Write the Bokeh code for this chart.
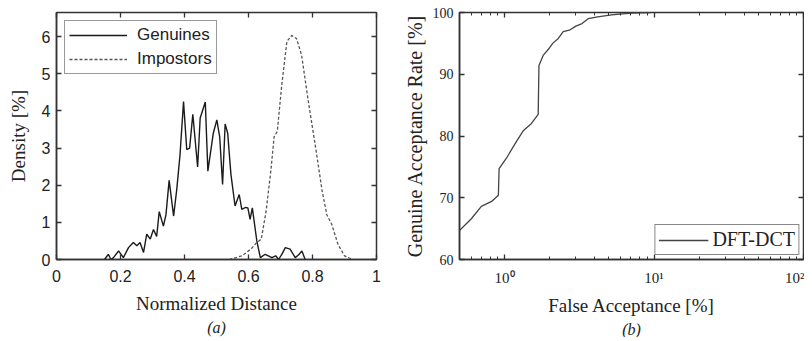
from bokeh.plotting import figure
from bokeh.models import (Range1d, FixedTicker, LinearAxis, Title, NumeralTickFormatter)
from bokeh.layouts import row
from bokeh.embed import file_html
from bokeh.resources import INLINE

# ---------------- data (a) ----------------
gen_x = [0.150, 0.162, 0.170, 0.178, 0.194, 0.209, 0.225, 0.240, 0.251, 0.261, 0.272, 0.282,
         0.293, 0.303, 0.313, 0.321, 0.334, 0.342, 0.352, 0.366, 0.376, 0.386, 0.397, 0.407,
         0.416, 0.426, 0.441, 0.449, 0.465, 0.473, 0.490, 0.501, 0.510, 0.519, 0.527, 0.535,
         0.545, 0.558, 0.571, 0.579, 0.590, 0.598, 0.605, 0.612, 0.626, 0.637, 0.652, 0.662,
         0.673, 0.685, 0.694, 0.705, 0.715, 0.730, 0.746, 0.756, 0.767, 0.777]
gen_y = [0.00, 0.14, 0.00, 0.05, 0.23, 0.05, 0.32, 0.46, 0.37, 0.46, 0.19, 0.68,
         0.55, 0.81, 0.62, 1.29, 0.90, 1.20, 2.13, 1.17, 1.90, 2.82, 4.25, 2.96,
         3.00, 3.91, 2.49, 3.81, 4.24, 2.38, 3.40, 3.76, 3.30, 2.02, 3.65, 3.40,
         2.30, 1.44, 1.75, 1.35, 1.40, 1.39, 1.08, 1.39, 0.50, 0.05, 0.14, 0.10,
         0.05, 0.10, 0.00, 0.15, 0.32, 0.28, 0.05, 0.12, 0.23, 0.00]
imp_x = [0.540, 0.580, 0.610, 0.625, 0.640, 0.655, 0.670, 0.680, 0.690, 0.704, 0.720, 0.735,
         0.750, 0.766, 0.787, 0.810, 0.830, 0.845, 0.860, 0.880, 0.900, 0.925]
imp_y = [0.00, 0.10, 0.30, 0.45, 0.55, 1.30, 2.40, 3.30, 3.45, 4.70, 5.87, 6.03,
         5.95, 5.50, 4.25, 3.00, 1.85, 1.20, 0.95, 0.40, 0.10, 0.00]
a_xticks = [0, 0.2, 0.4, 0.6, 0.8, 1]
a_yticks = [0, 1, 2, 3, 4, 5, 6]

# ---------------- data (b) ----------------
roc_x = [0.50, 0.60, 0.70, 0.82, 0.91, 0.92, 1.03, 1.20, 1.34, 1.51, 1.68, 1.70, 1.82,
         1.96, 2.10, 2.29, 2.47, 2.75, 3.00, 3.30, 3.63, 4.20, 5.20, 7.00, 9.50]
roc_y = [64.7, 66.6, 68.6, 69.4, 70.4, 74.7, 76.4, 79.1, 80.9, 82.0, 83.5, 91.4, 93.1,
         94.0, 95.0, 95.8, 96.9, 97.2, 97.8, 98.2, 99.0, 99.3, 99.6, 99.9, 100.0]
b_xticks = [1, 10, 100]
b_xtick_labels = {1: "10\u2070", 10: "10\u00b9", 100: "10\u00b2"}
b_yticks = [60, 70, 80, 90, 100]

SERIF = "Liberation Serif"
SANS = "Liberation Sans"
TXT = "#222222"
FRAME = "#333333"


def style_axis(ax, tick_font, tick_size):
    ax.axis_line_color = FRAME
    ax.axis_line_width = 1.5
    ax.major_tick_in = 5
    ax.major_tick_out = 0
    ax.major_tick_line_color = FRAME
    ax.major_tick_line_width = 1.3
    ax.minor_tick_in = 3
    ax.minor_tick_out = 0
    ax.minor_tick_line_color = FRAME
    ax.major_label_text_font = tick_font
    ax.major_label_text_font_size = tick_size
    ax.major_label_text_color = TXT
    ax.axis_label_text_font = SERIF
    ax.axis_label_text_font_style = "normal"
    ax.axis_label_text_font_size = "19px"
    ax.axis_label_text_color = TXT


def blank_axis(ax):
    ax.axis_line_color = None
    ax.major_tick_in = 5
    ax.major_tick_out = 0
    ax.major_tick_line_color = FRAME
    ax.major_tick_line_width = 1.3
    ax.minor_tick_in = 3
    ax.minor_tick_out = 0
    ax.minor_tick_line_color = FRAME
    ax.major_label_text_font_size = "1px"
    ax.major_label_text_color = None
    ax.major_label_standoff = 0


# ---------------- figure (a) ----------------
p1 = figure(width=400, height=337, x_range=Range1d(0, 1), y_range=Range1d(0, 6.65),
            output_backend="svg", toolbar_location=None,
            min_border_left=56, min_border_right=24, min_border_top=12, min_border_bottom=77)
p1.grid.visible = False
p1.outline_line_color = FRAME
p1.outline_line_width = 1.5

p1.line(gen_x, gen_y, line_color="#1a1a1a", line_width=1.4, legend_label="Genuines")
p1.line(imp_x, imp_y, line_color="#555555", line_width=1.3, line_dash="3 2",
        legend_label="Impostors")

xa = p1.xaxis[0]
ya = p1.yaxis[0]
xa.ticker = FixedTicker(ticks=a_xticks)
xa.formatter = NumeralTickFormatter(format="0.[0]")
ya.ticker = FixedTicker(ticks=a_yticks)
style_axis(xa, SANS, "16px")
style_axis(ya, SANS, "16px")
xa.axis_label = "Normalized Distance"
ya.axis_label = "Density [%]"
xa.major_label_standoff = 10
xa.axis_label_standoff = 8
ya.major_label_standoff = 6
ya.axis_label_standoff = 10

top1 = LinearAxis(ticker=FixedTicker(ticks=a_xticks))
blank_axis(top1)
p1.add_layout(top1, "above")
right1 = LinearAxis(ticker=FixedTicker(ticks=a_yticks))
blank_axis(right1)
p1.add_layout(right1, "right")

p1.add_layout(Title(text="(a)", align="center", text_font=SERIF, text_font_style="italic",
                    text_font_size="16px", text_color=TXT, standoff=0), "below")

lg1 = p1.legend[0]
lg1.location = "top_left"
lg1.margin = 8
lg1.padding = 4
lg1.spacing = 4
lg1.glyph_width = 58
lg1.label_standoff = 10
lg1.label_text_font = SANS
lg1.label_text_font_size = "17px"
lg1.label_text_color = TXT
lg1.border_line_color = FRAME
lg1.border_line_width = 1.5
lg1.background_fill_alpha = 1

# ---------------- figure (b) ----------------
p2 = figure(width=404, height=337, x_axis_type="log", x_range=Range1d(0.5, 100),
            y_range=Range1d(60, 100), output_backend="svg", toolbar_location=None,
            min_border_left=59, min_border_right=1, min_border_top=12, min_border_bottom=77)
p2.grid.visible = False
p2.outline_line_color = FRAME
p2.outline_line_width = 1.5

p2.line(roc_x, roc_y, line_color="#444444", line_width=1.3, legend_label="DFT-DCT")

minor = [m * d for d in (0.1, 1, 10) for m in range(2, 10)]
xb = p2.xaxis[0]
yb = p2.yaxis[0]
xb.ticker = FixedTicker(ticks=b_xticks, minor_ticks=minor)
xb.major_label_overrides = b_xtick_labels
yb.ticker = FixedTicker(ticks=b_yticks)
style_axis(xb, SERIF, "15px")
style_axis(yb, SERIF, "14px")
yb.axis_label_text_font_size = "20px"
xb.axis_label = "False Acceptance [%]"
yb.axis_label = "Genuine Acceptance Rate [%]"
xb.major_label_standoff = 10
xb.axis_label_standoff = 6
yb.major_label_standoff = 6
yb.axis_label_standoff = 4

top2 = LinearAxis(ticker=FixedTicker(ticks=b_xticks, minor_ticks=minor))
blank_axis(top2)
p2.add_layout(top2, "above")
right2 = LinearAxis(ticker=FixedTicker(ticks=b_yticks))
blank_axis(right2)
p2.add_layout(right2, "right")

p2.add_layout(Title(text="(b)", align="center", text_font=SERIF, text_font_style="italic",
                    text_font_size="16px", text_color=TXT, standoff=0), "below")

lg2 = p2.legend[0]
lg2.location = "bottom_right"
lg2.margin = 4
lg2.padding = 3
lg2.glyph_width = 50
lg2.label_standoff = 4
lg2.label_text_font = SERIF
lg2.label_text_font_size = "20px"
lg2.label_text_color = TXT
lg2.border_line_color = "#111111"
lg2.border_line_width = 1.8

layout = row(p1, p2)
open("out.html", "w").write(file_html(layout, INLINE))
